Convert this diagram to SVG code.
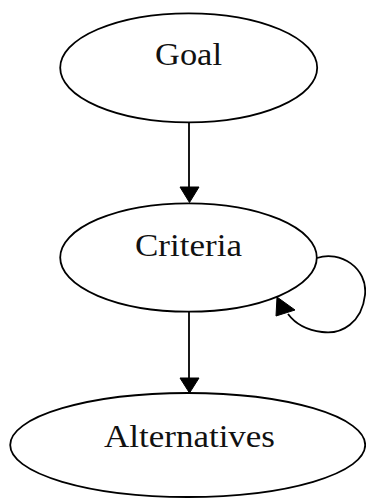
<svg xmlns="http://www.w3.org/2000/svg" width="366" height="498" viewBox="0 0 366 498">
<style>
.node ellipse{fill:#fff;stroke:#000;stroke-width:1.8}
.node text{font-family:"Liberation Serif","Times New Roman",serif;font-size:31px;fill:#111;text-anchor:middle}
.edge path{fill:none;stroke:#000;stroke-width:1.8}
.edge polygon{fill:#000;stroke:#000;stroke-width:1}
</style>
<rect width="366" height="498" fill="#fff"/>
<g id="edges">
<g class="edge" id="goal-criteria">
<path d="M189,122 L189,187"/>
<polygon points="180,187 199,187 189.5,202.5"/>
</g>
<g class="edge" id="criteria-criteria">
<path d="M317,258 C340,250 368,268 365,295 C362,322 342,335 322,332 C305,330 294,322 288,314"/>
<polygon points="277,297 276,316 295,310"/>
</g>
<g class="edge" id="criteria-alternatives">
<path d="M189,312 L189,378"/>
<polygon points="180,378 199,378 189.5,393"/>
</g>
</g>
<g class="node" id="goal">
<ellipse cx="188.7" cy="67.8" rx="128.5" ry="54.5"/>
<text x="188.5" y="65" textLength="67" lengthAdjust="spacingAndGlyphs">Goal</text>
</g>
<g class="node" id="criteria">
<ellipse cx="188.5" cy="257.5" rx="128.3" ry="54.2"/>
<text x="188.5" y="255.5" textLength="107" lengthAdjust="spacingAndGlyphs">Criteria</text>
</g>
<g class="node" id="alternatives">
<ellipse cx="187.7" cy="445" rx="177.5" ry="52"/>
<text x="189.5" y="446.5" textLength="171" lengthAdjust="spacingAndGlyphs">Alternatives</text>
</g>
</svg>
